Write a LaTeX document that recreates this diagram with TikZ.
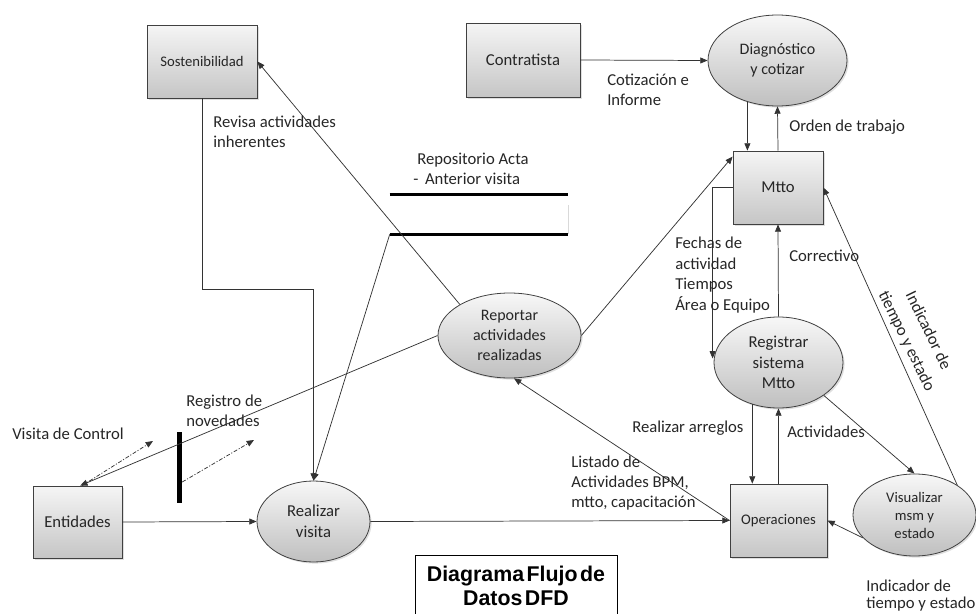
\documentclass[tikz,border=0pt]{standalone}
\usepackage{fontspec}
\setmainfont{Carlito}
\newfontfamily\titlefont{Liberation Sans}
\usetikzlibrary{arrows.meta,shadows,shapes.geometric,calc}
\newcommand\tightwords{\spaceskip=0.12em\relax}

\tikzset{
  every node/.style={inner sep=0pt, text=black!85},
  softshadow/.style={drop shadow={opacity=0.25, shadow xshift=1.2pt, shadow yshift=-1.2pt}},
  box/.style={rectangle, draw=black!75, line width=0.6pt, top color=gray!8,
    bottom color=gray!45, softshadow, font=\fontsize{12.5}{15}\selectfont},
  proc/.style={ellipse, draw=black!75, line width=0.6pt, top color=gray!6,
    bottom color=gray!50, softshadow, align=center, font=\fontsize{12}{15}\selectfont},
  flow/.style={draw=black!80, line width=0.55pt, -{Triangle[length=5.5pt,width=4.5pt]}},
  dashdot/.style={flow, dash pattern=on 3pt off 1.3pt on 0.8pt off 1.3pt},
  storeline/.style={draw=black, line width=2.6pt},
  lbl/.style={align=left, font=\fontsize{12.5}{15}\selectfont},
}

\begin{document}
\begin{tikzpicture}[x=0.75pt, y=-0.75pt]
\useasboundingbox (0,0) rectangle (976,614);

% external entities
\node[box, minimum width=82.5pt, minimum height=54.75pt, font=\fontsize{11}{13}\selectfont] (sost) at (202,61.5) {Sostenibilidad};
\node[box, minimum width=85.5pt, minimum height=55.5pt] (contr) at (523,60) {Contratista};
\node[box, minimum width=67.5pt, minimum height=54.75pt] (mtto) at (778,187.5) {Mtto};
\node[box, minimum width=72.75pt, minimum height=54.75pt, font=\fontsize{11}{13}\selectfont] (ops) at (778.5,520.5) {Operaciones};
\node[box, minimum width=66.75pt, minimum height=54pt] (ent) at (77.5,522) {Entidades};

% processes
\node[proc, minimum width=104.25pt, minimum height=68.25pt] (diag) at (777.5,60.5) {Diagnóstico\\y cotizar};
\node[proc, minimum width=107.25pt, minimum height=63.75pt] (rep) at (509.5,335.5) {Reportar\\actividades\\realizadas};
\node[proc, minimum width=84.75pt, minimum height=60.75pt, font=\fontsize{12.5}{15.5}\selectfont] (vis) at (313.5,521.5) {Realizar\\visita};
\node[proc, minimum width=96.75pt, minimum height=68.25pt, font=\fontsize{12.5}{15.4}\selectfont] (reg) at (778.5,362.5) {Registrar\\sistema\\Mtto};
\node[proc, minimum width=92.25pt, minimum height=61.5pt, font=\fontsize{11}{13.5}\selectfont] (visz) at (914.5,515) {Visualizar\\msm y\\estado};

% data store and control bar
\node[rectangle, minimum width=133.5pt, minimum height=29.25pt] (store) at (479,214.5) {};
\draw[storeline] (store.north west) -- (store.north east);
\draw[storeline] (store.south west) -- (store.south east);
\draw[black!15, line width=0.6pt] ([yshift=-8pt]store.north east) -- (store.south east);
\node[rectangle, fill=black, minimum width=3.6pt, minimum height=53.25pt] (bar) at (179.5,467.5) {};

% title
\node[draw=black, line width=0.6pt, minimum width=151.5pt, minimum height=46.5pt, align=center,
  text=black, font=\titlefont\fontsize{16}{18}\selectfont\bfseries\tightwords] (title) at (516,586) {Diagrama Flujo de\\Datos DFD};

% free ends of the dash-dot flows
\coordinate (vcEnd) at (153,441);
\coordinate (rnEnd) at (254,440);

% flows
\draw[flow] (rep.148) -- (sost.east);
\draw[flow] (sost.south) -- (sost.south |- 0,289) -| (vis.north);
\draw[flow] (store.south west) -- (vis.north);
\draw[flow] (rep.west) -- ([xshift=2pt]ent.north);
\draw[dashdot] ([xshift=3.5pt]ent.north) -- (vcEnd);
\draw[dashdot] ([yshift=-10.9pt]bar.east) -- (rnEnd);
\draw[flow] (ent.east) -- (vis.west);
\draw[flow] (vis.east) -- (ops.west);
\draw[flow] (ops.west) -- (rep.-84);
\draw[flow] (rep.east) -- ([yshift=-4.5pt]mtto.north west);
\draw[flow] (contr.east) -- (diag.west);
\draw[flow] (diag.-126) -- (mtto.north -| diag.-126);
\draw[flow] (mtto.north) -- (diag.south);
\draw[flow] (mtto.west) -| ([xshift=-0.75pt, yshift=3pt]reg.west);
\draw[flow] (reg.north) -- (mtto.south);
\draw[flow] (reg.-122.6) -- (ops.north -| reg.-122.6);
\draw[flow] (ops.north) -- (reg.south);
\draw[flow] (reg.-36) -- (visz.north);
\draw[flow] (visz.35) -- (mtto.east);
\draw[flow] (visz.-156) -- (ops.east);

% flow labels
\node[lbl, anchor=west] (tRevisa) at (213,132) {Revisa actividades\\inherentes};
\node[lbl, anchor=west] (tRepo) at (413,168.5) {\hspace{3pt}Repositorio Acta\\-\hspace{5pt}Anterior visita};
\node[lbl, anchor=west] (tCotiz) at (607,89.5) {Cotización e\\Informe};
\node[lbl, anchor=west] (tOrden) at (789,127) {Orden de trabajo};
\node[lbl, anchor=west, font=\fontsize{12.5}{15.5}\selectfont] (tFechas) at (675,275) {Fechas de\\actividad\\Tiempos\\Área o Equipo};
\node[lbl, anchor=west] (tCorr) at (789,256) {Correctivo};
\node[lbl, anchor=west] (tArreg) at (632,428) {Realizar arreglos};
\node[lbl, anchor=west] (tActiv) at (787,432) {Actividades};
\node[lbl, anchor=west] (tListado) at (571,483) {Listado de\\Actividades BPM,\\mtto, capacitación};
\node[lbl, anchor=west] (tRegistro) at (186,411) {Registro de\\novedades};
\node[lbl, anchor=west] (tVisita) at (12,434) {Visita de Control};
\node[lbl, anchor=west, font=\fontsize{12.5}{13.2}\selectfont] (tIndB) at (866,595.5) {Indicador de\\tiempo y estado};
\node[lbl, align=center, rotate=-64, font=\fontsize{12.5}{18}\selectfont] (tIndR) at (917,336) {Indicador de\\tiempo y estado};
\end{tikzpicture}
\end{document}
